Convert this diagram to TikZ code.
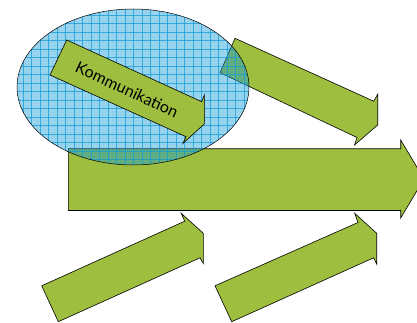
\documentclass[tikz,border=0pt]{standalone}
\usepackage{fontspec}
\setmainfont{Lato}
\usetikzlibrary{patterns}
\definecolor{pfeilgruen}{RGB}{158,190,64}
\definecolor{kreisblau}{RGB}{20,155,215}

\begin{document}
\begin{tikzpicture}[x=1pt,y=-1pt,
  pfeil/.style={draw=black,line width=0.6pt,fill=pfeilgruen,line join=miter},
  kreis/.style={fill=kreisblau,fill opacity=0.42}]
\useasboundingbox (0,0) rectangle (417,323);
\clip (0,0) rectangle (417,323);
% Pfeile hinten
\draw[pfeil] (235,38.3) -- (373.7,101.2) -- (377.7,94.2) -- (377.7,125) -- (354.5,145) -- (357,137.5) -- (220,72.7) -- cycle;
\draw[pfeil] (68.3,148.8) -- (400.7,148.8) -- (400.7,140) -- (424,179) -- (400.7,218) -- (400.7,210.5) -- (68.3,210.5) -- cycle;
\draw[pfeil] (41.7,285.8) -- (184.7,221.2) -- (181.2,213.3) -- (203.3,233.3) -- (203.3,263.5) -- (200,257.8) -- (58.3,321.7) -- cycle;
\draw[pfeil] (215,285.8) -- (358,222.5) -- (354.7,213.3) -- (376.7,233.3) -- (376.7,264.2) -- (373.7,257.8) -- (231.7,321.7) -- cycle;
% Ellipse mit Gitter
\fill[kreis] (133,87) ellipse [x radius=116, y radius=78];
\begin{scope}
\clip (133,87) ellipse [x radius=116, y radius=78];
\fill[pattern=crosshatch dots,pattern color=kreisblau,opacity=0.25] (10,0) rectangle (260,170);
\foreach \gx in {14.7,23.2,...,250}
  \draw[kreisblau,line width=0.45pt,opacity=0.75] (\gx,5) -- (\gx,170);
\foreach \gy in {6.3,14.8,...,170}
  \draw[kreisblau,line width=0.45pt,opacity=0.75] (15,\gy) -- (252,\gy);
\end{scope}
\draw[black,line width=0.5pt] (133,87) ellipse [x radius=116, y radius=78];
% Pfeil vorne
\draw[pfeil] (66.7,40) -- (201.7,101.7) -- (204.3,95) -- (204.3,124) -- (183,143.3) -- (186,136.7) -- (50,75) -- cycle;
\node[rotate=-24.7,font=\fontsize{16}{16}\selectfont] (komm) at (127,89.5) {Kommunikation};
\end{tikzpicture}
\end{document}
